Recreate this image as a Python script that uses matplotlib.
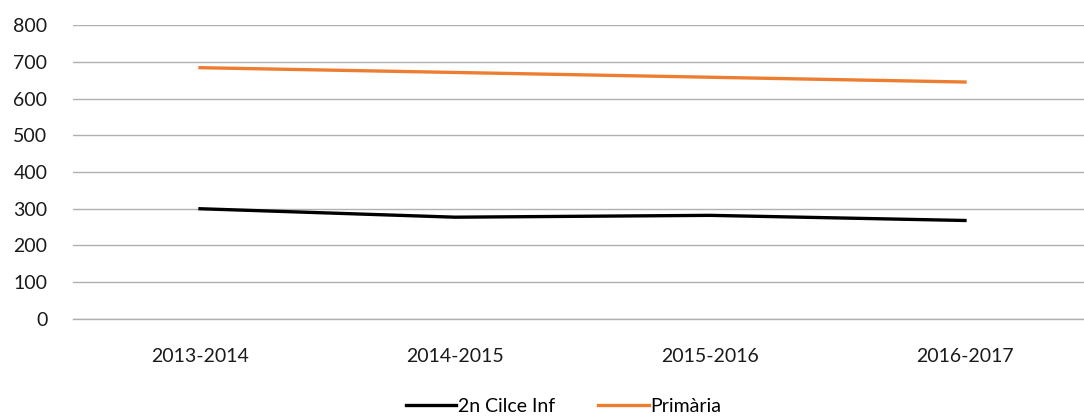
import matplotlib.pyplot as plt
import numpy as np

plt.rcParams['font.family'] = ['Lato', 'DejaVu Sans']

years = ["2013-2014", "2014-2015", "2015-2016", "2016-2017"]
cicle_inf = [300, 277, 282, 268]
primaria = [684, 671, 658, 645]

fig = plt.figure(figsize=(10.84, 4.18), dpi=100)
ax = fig.add_axes([72.5 / 1084, 0.237, 1020 / 1084, 0.703])

x = np.arange(len(years))
ax.plot(x, cicle_inf, color="black", linewidth=2.4, label="2n Cilce Inf")
ax.plot(x, primaria, color="#ED7D31", linewidth=2.4, label="Primària")

ax.set_xlim(-0.5, 3.5)
ax.set_ylim(0, 800)
ax.set_yticks(np.arange(0, 801, 100))
ax.set_xticks(x)
ax.set_xticklabels(years)
ax.tick_params(axis="both", length=0, labelsize=14, colors="#1a1a1a")
ax.tick_params(axis="x", pad=21)
ax.tick_params(axis="y", pad=18)
ax.grid(axis="y", color="#b0b0b0", linewidth=1)
ax.axhline(0, color="#b0b0b0", linewidth=1, clip_on=False, zorder=0)
ax.set_axisbelow(True)
for s in ax.spines.values():
    s.set_visible(False)

fig.legend(loc="lower center", ncol=2, frameon=False, fontsize=14,
           bbox_to_anchor=(0.52, -0.035), handlelength=2.6, columnspacing=2.2,
           handletextpad=0.1)

fig.savefig("out.png", dpi=100)
